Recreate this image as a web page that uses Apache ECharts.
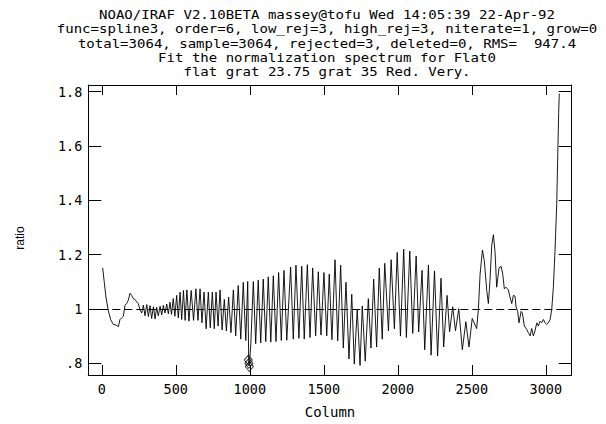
<!DOCTYPE html>
<html><head><meta charset="utf-8">
<script src="https://cdn.jsdelivr.net/npm/echarts@6/dist/echarts.min.js"></script>
<style>html,body{margin:0;padding:0;background:#fff}#c{width:606px;height:424px}</style>
</head><body><div id="c"></div>
<script>
const titleLines = [
  'NOAO/IRAF V2.10BETA massey@tofu Wed 14:05:39 22-Apr-92',
  'func=spline3, order=6, low_rej=3, high_rej=3, niterate=1, grow=0',
  'total=3064, sample=3064, rejected=3, deleted=0, RMS=  947.4',
  'Fit the normalization spectrum for Flat0',
  'flat grat 23.75 grat 35 Red. Very.'
];
const xAxisName = 'Column';
const yAxisName = 'ratio';
const xTicks = [0, 500, 1000, 1500, 2000, 2500, 3000];
const yTicks = [0.8, 1, 1.2, 1.4, 1.6, 1.8];
const yTickLabels = ['.8', '1', '1.2', '1.4', '1.6', '1.8'];

const column = [
  6,17,28,44,60,78,96,112,123,134,146,157,168,179,191,202,213,224,236,247,258,
  270,281,292,304,315,326,337,349,360,371,382,394,405,416,427,439,450,461,471,
  483,494,506,517,529,540,552,563,575,589,604,620,636,650,664,677,691,705,720,733,747,760,772,786,799,813,828,842,857,873,889,905,922,939,956,973,986,993,997,1007,1024,
  1040,1057,1074,1091,1108,1125,1142,1159,1177,1195,1213,1231,1250,
  1276,1294,1312,1332,1351,1368,1389,1407,1425,1445,1463,1481,1501,1520,1537,1555,1576,1594,1614,1632,1650,1670,1689,1706,1726,1745,1760,1780,1801,1819,1837,1857,1875,1895,1912,
  1937,1955,1977,1996,2018,2040,2058,2081,2101,2124,2141,2164,2182,2207,2225,2248,2269,2292,2310,2333,2350,2371,2390,2412,2436,2460,2481,2503,2533,
  2545,2556,2572,2585,2601,2612,2623,2635,2646,2657,2668,2684,2698,2709,2720,2731,2747,2758,2770,2781,2792,2799,2810,2819,2833,2842,2855,2871,2882,2894,2905,2916,2927,2939,2950,2961,2972,2984,2995,3006,3017,3029,3040,3051,3062,3074,3080,3087,3091
];
const ratio = [
  1.151,1.098,1.044,0.994,0.961,0.943,0.941,0.935,0.961,0.967,0.973,1.014,1.020,1.032,1.058,1.050,1.038,1.035,1.026,1.020,0.997,
  0.985,1.014,0.975,1.016,0.972,1.012,0.965,1.008,0.963,1.006,0.975,1.010,0.978,1.013,0.985,1.018,0.982,1.025,0.980,
  1.038,0.973,1.050,0.967,1.062,0.961,1.068,0.958,1.070,0.955,1.068,0.958,1.074,0.958,1.074,0.949,1.062,0.927,1.062,0.931,1.062,0.927,1.062,0.937,1.070,0.923,1.035,0.919,1.044,0.913,1.070,0.901,1.086,0.889,1.098,0.884,1.101,0.800,0.790,0.872,1.101,
  0.872,1.106,0.875,1.110,0.880,1.118,0.878,1.122,0.880,1.134,0.884,1.142,0.885,
  1.154,0.889,1.161,0.892,1.157,0.889,1.163,0.895,1.151,0.901,1.137,0.904,1.134,0.901,1.128,0.887,1.181,0.883,1.161,0.856,1.098,0.816,1.054,0.797,0.999,0.792,1.011,0.808,1.038,0.856,1.110,0.860,1.151,0.889,1.168,
  0.919,1.181,0.927,1.208,0.900,1.220,0.895,1.213,0.910,1.195,0.915,1.142,0.850,1.162,0.830,1.140,0.827,1.113,0.860,1.050,0.916,1.008,0.920,1.001,0.850,0.953,0.860,0.965,0.928,
  1.003,1.128,1.217,1.175,1.068,1.020,1.104,1.235,1.273,1.211,1.080,1.151,1.157,1.128,1.074,1.080,1.070,1.044,1.020,1.050,1.047,1.008,0.991,0.949,0.991,0.985,0.937,0.925,0.913,0.901,0.928,0.901,0.919,0.949,0.937,0.955,0.949,0.961,0.949,0.943,0.949,0.961,0.997,1.080,1.211,1.389,1.544,1.723,1.792
];
const rejectedColumn = [990, 994, 997];
const rejectedRatio = [0.812, 0.800, 0.788];
const fitLevel = 1;

const MONO = '"DejaVu Sans Mono", monospace';
const X_MIN = -91, X_MAX = 3175, Y_MIN = 0.757, Y_MAX = 1.824;

const chart = echarts.init(document.getElementById('c'), null, {renderer: 'svg'});

function xAxisDef(pos, showLabel) {
  return {
    type: 'value', position: pos, min: X_MIN, max: X_MAX,
    axisLine: {show: true, onZero: false, lineStyle: {color: '#000', width: 1}},
    axisTick: {show: true, inside: true, length: 10, customValues: xTicks, lineStyle: {color: '#000', width: 1}},
    axisLabel: {show: showLabel, customValues: xTicks, fontFamily: MONO, fontSize: 13.5, color: '#000', margin: 7,
      formatter: v => String(Math.round(v))},
    splitLine: {show: false},
    name: showLabel ? xAxisName : '', nameLocation: 'middle', nameGap: 30,
    nameTextStyle: {fontFamily: MONO, fontSize: 14, color: '#000'}
  };
}
function yAxisDef(pos, showLabel) {
  return {
    type: 'value', position: pos, min: Y_MIN, max: Y_MAX,
    axisLine: {show: true, onZero: false, lineStyle: {color: '#000', width: 1}},
    axisTick: {show: true, inside: true, length: 13, customValues: yTicks, lineStyle: {color: '#000', width: 1}},
    axisLabel: {show: showLabel, customValues: yTicks, fontFamily: MONO, fontSize: 13.5, color: '#000', margin: 6,
      formatter: v => { const i = yTicks.findIndex(t => Math.abs(t - v) < 1e-6); return i >= 0 ? yTickLabels[i] : ''; }},
    splitLine: {show: false},
    name: showLabel ? yAxisName : '', nameLocation: 'middle', nameGap: 62, nameRotate: 90,
    nameTextStyle: {fontFamily: '"Liberation Sans", sans-serif', fontSize: 12, color: '#000', padding: [0, 16, 0, 0]}
  };
}

chart.setOption({
  animation: false,
  backgroundColor: '#fff',
  graphic: titleLines.map((t, i) => ({
    type: 'text', x: 327, y: 15 + i * 14.2, scaleX: 1.17, silent: true,
    style: {text: t, font: '12px "DejaVu Sans Mono", monospace', fill: '#000', align: 'center', verticalAlign: 'middle'}
  })),
  grid: {left: 88.3, right: 34.3, top: 85, bottom: 40, containLabel: false},
  xAxis: [xAxisDef('bottom', true), xAxisDef('top', false)],
  yAxis: [yAxisDef('left', true), yAxisDef('right', false)],
  series: [
    {
      type: 'line', xAxisIndex: 0, yAxisIndex: 0,
      data: column.map((c, i) => [c, ratio[i]]),
      showSymbol: false, symbol: 'none',
      lineStyle: {color: '#000', width: 0.9},
      markLine: {
        silent: true, symbol: ['none', 'none'], label: {show: false},
        lineStyle: {color: '#000', width: 1, type: [8, 4]},
        data: [{yAxis: fitLevel}]
      }
    },
    {
      type: 'scatter', xAxisIndex: 0, yAxisIndex: 0,
      data: rejectedColumn.map((c, i) => [c, rejectedRatio[i]]),
      symbol: 'diamond', symbolSize: [8, 10],
      itemStyle: {color: 'rgba(255,255,255,0)', borderColor: '#000', borderWidth: 1}
    }
  ]
});
</script></body></html>
